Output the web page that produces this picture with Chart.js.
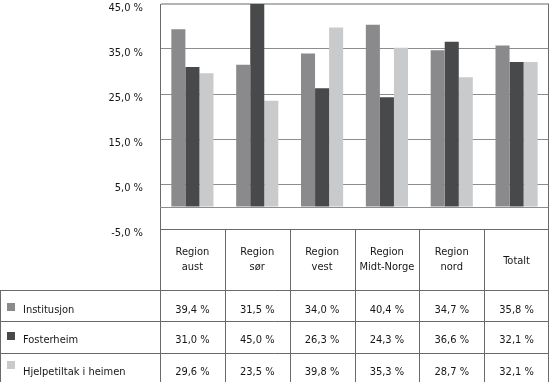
<!DOCTYPE html>
<html>
<head>
<meta charset="utf-8">
<script src="https://cdn.jsdelivr.net/npm/chart.js@4/dist/chart.umd.min.js"></script>
<style>
  html, body { margin: 0; padding: 0; background: #fff; }
  #wrap { width: 550px; height: 382px; }
</style>
</head>
<body>
<div id="wrap"><canvas id="chart"></canvas></div>
<script>
const categories = [["Region", "aust"], ["Region", "sør"], ["Region", "vest"], ["Region", "Midt-Norge"], ["Region", "nord"], ["Totalt"]]
const seriesNames = ["Institusjon", "Fosterheim", "Hjelpetiltak i heimen"]
const institusjon = [39.4, 31.5, 34.0, 40.4, 34.7, 35.8]
const fosterheim = [31.0, 45.0, 26.3, 24.3, 36.6, 32.1]
const hjelpetiltak = [29.6, 23.5, 39.8, 35.3, 28.7, 32.1]
const yTicks = [-5, 5, 15, 25, 35, 45]

const colors = ["#8a8a8c", "#48494b", "#c9cacc"]
const FONT = "'DejaVu Sans Condensed', sans-serif"
const FONT_SIZE = 11
const textColor = "#161616"
const lineColor = "#6a6a6a"

const fmt = (v) => v.toFixed(1).replace(".", ",") + " %"

// draws the data table under the plot, columns follow the x scale
const tablePlugin = {
  id: "dataTable",
  beforeDatasetsDraw(chart) {
    const { ctx, chartArea, scales } = chart
    const y0 = Math.round(scales.y.getPixelForValue(0)) + 0.5
    ctx.save()
    ctx.strokeStyle = "#8d8d8d"
    ctx.lineWidth = 1
    ctx.beginPath()
    ctx.moveTo(chartArea.left, y0)
    ctx.lineTo(chartArea.right, y0)
    ctx.stroke()
    ctx.restore()
  },
  afterDraw(chart) {
    const { ctx, chartArea, scales } = chart
    const x = scales.x
    const n = categories.length
    const colW = (chartArea.right - chartArea.left) / n
    const top = Math.round(chartArea.bottom) + 0.5
    const rowTops = [290.5, 321.5, 353.5]
    const bottom = chart.height
    const right = Math.round(chartArea.right) - 0.5

    ctx.save()
    ctx.strokeStyle = lineColor
    ctx.lineWidth = 1

    // right border of plot
    ctx.beginPath()
    ctx.moveTo(right, chartArea.top)
    ctx.lineTo(right, bottom)
    ctx.stroke()

    // header top line
    ctx.beginPath()
    ctx.moveTo(chartArea.left, top)
    ctx.lineTo(right, top)
    ctx.stroke()

    // column lines
    for (let i = 0; i < n; i++) {
      const cx = Math.round(chartArea.left + i * colW) + 0.5
      ctx.beginPath()
      ctx.moveTo(cx, top)
      ctx.lineTo(cx, bottom)
      ctx.stroke()
    }

    // row lines
    rowTops.forEach((ry) => {
      ctx.beginPath()
      ctx.moveTo(0, ry)
      ctx.lineTo(right, ry)
      ctx.stroke()
    })
    ctx.beginPath()
    ctx.moveTo(0.5, rowTops[0])
    ctx.lineTo(0.5, bottom)
    ctx.stroke()

    ctx.fillStyle = textColor
    ctx.font = FONT_SIZE + "px " + FONT
    ctx.textAlign = "center"
    ctx.textBaseline = "middle"

    // header labels
    categories.forEach((lines, i) => {
      const cx = x.getPixelForValue(i)
      if (lines.length === 1) {
        ctx.fillText(lines[0], cx, 261)
      } else {
        ctx.fillText(lines[0], cx, 252)
        ctx.fillText(lines[1], cx, 267)
      }
    })

    // series rows
    const series = [institusjon, fosterheim, hjelpetiltak]
    const textY = [310, 340, 372]
    const swatchY = [303, 332, 361]
    series.forEach((vals, r) => {
      ctx.fillStyle = colors[r]
      ctx.fillRect(7, swatchY[r], 8, 8)
      ctx.fillStyle = textColor
      ctx.textAlign = "left"
      ctx.fillText(seriesNames[r], 23, textY[r])
      ctx.textAlign = "center"
      vals.forEach((v, i) => {
        ctx.fillText(fmt(v), x.getPixelForValue(i), textY[r])
      })
    })
    ctx.restore()
  }
}

const ctx = document.getElementById("chart").getContext("2d")
new Chart(ctx, {
  type: "bar",
  data: {
    labels: categories.map((c) => c.join(" ")),
    datasets: [
      { label: seriesNames[0], data: institusjon, backgroundColor: colors[0] },
      { label: seriesNames[1], data: fosterheim, backgroundColor: colors[1] },
      { label: seriesNames[2], data: hjelpetiltak, backgroundColor: colors[2] }
    ]
  },
  options: {
    responsive: true,
    maintainAspectRatio: false,
    animation: false,
    layout: { padding: { top: 4, right: 1, bottom: 153, left: 0 } },
    datasets: { bar: { categoryPercentage: 0.65, barPercentage: 1.0 } },
    plugins: {
      legend: { display: false },
      tooltip: { enabled: false }
    },
    scales: {
      x: { display: false },
      y: {
        min: -5,
        max: 45,
        afterBuildTicks: (scale) => { scale.ticks = yTicks.map((v) => ({ value: v })) },
        afterFit: (scale) => {
          scale.width = 160
          scale.paddingTop = 0
          scale.paddingBottom = 0
        },
        border: { display: true, color: lineColor },
        grid: {
          drawTicks: false,
          color: (c) => {
            if (c.tick.value === 45) return "#b4b4b4"
            if (c.tick.value === -5) return "rgba(0,0,0,0)"
            return "#8d8d8d"
          },
          lineWidth: (c) => (c.tick.value === 45 ? 2 : 1)
        },
        ticks: {
          padding: 17,
          labelOffset: 4,
          color: textColor,
          font: { family: FONT, size: FONT_SIZE },
          callback: (v) => fmt(v)
        }
      }
    }
  },
  plugins: [tablePlugin]
})
</script>
</body>
</html>
